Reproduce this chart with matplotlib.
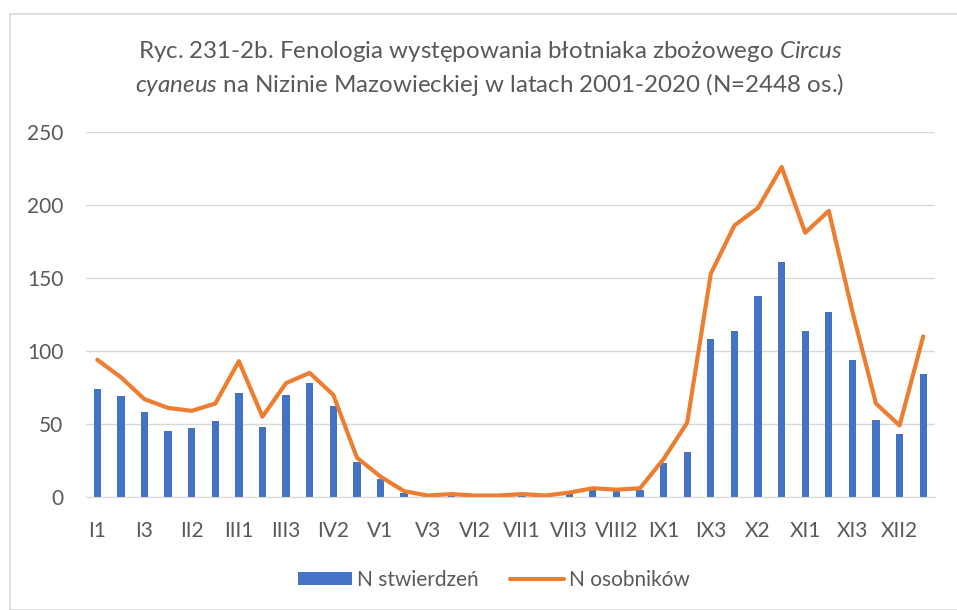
import matplotlib
matplotlib.use('Agg')
import matplotlib.pyplot as plt
import numpy as np
from matplotlib.patches import Rectangle

plt.rcParams['font.family'] = ['Lato', 'DejaVu Sans']
plt.rcParams['mathtext.fontset'] = 'custom'
plt.rcParams['mathtext.rm'] = 'Lato'
plt.rcParams['mathtext.it'] = 'Lato:italic'

# decades of each month (I1..XII3)
months = ['I', 'II', 'III', 'IV', 'V', 'VI', 'VII', 'VIII', 'IX', 'X', 'XI', 'XII']
decades = [m + str(d) for m in months for d in (1, 2, 3)]

# N stwierdzeń (records)
n_records = [74, 69, 58, 45, 47, 52, 71, 48, 70, 78, 62, 24,
             12, 3, 1, 1, 0, 1, 1, 1, 2, 5, 4, 5,
             23, 31, 108, 114, 138, 161, 114, 127, 94, 53, 43, 84]
# N osobników (individuals)
n_birds = [94, 82, 67, 61, 59, 64, 93, 55, 78, 85, 70, 27,
           14, 4, 1, 2, 1, 1, 2, 1, 3, 6, 5, 6,
           26, 51, 153, 186, 198, 226, 181, 196, 127, 64, 49, 110]

BLUE = '#4472C4'
ORANGE = '#ED7D31'
GRID = '#D9D9D9'
TXT = '#595959'

fig = plt.figure(figsize=(9.57, 6.10), dpi=100)
W, H = 957, 610
ax = fig.add_axes([85.5 / W, 1 - 497 / H, (935 - 85.5) / W, (497 - 132) / H])

x = np.arange(len(decades))
ax.bar(x, n_records, width=0.31, color=BLUE, label='N stwierdzeń', zorder=2)
ax.plot(x, n_birds, color=ORANGE, lw=3, label='N osobników', zorder=3,
        solid_joinstyle='round', solid_capstyle='round')

ax.set_xlim(-0.5, len(decades) - 0.5)
ax.set_ylim(0, 250)
ax.set_yticks(range(0, 251, 50))
ax.set_xticks(x[::2])
ax.set_xticklabels(decades[::2])
ax.yaxis.grid(True, color=GRID, lw=1, zorder=0)
ax.set_axisbelow(True)
for s in ax.spines.values():
    s.set_visible(False)
ax.spines['bottom'].set_visible(True)
ax.spines['bottom'].set_color(GRID)
ax.tick_params(axis='both', length=0, colors=TXT, labelsize=15)
ax.tick_params(axis='x', pad=17)
ax.tick_params(axis='y', pad=16)

fig.text(490 / W, 1 - 52 / H,
         r'Ryc. 231-2b. Fenologia występowania błotniaka zbożowego $\mathit{Circus}$',
         ha='center', va='center', fontsize=17.4, color=TXT)
fig.text(490 / W, 1 - 85 / H,
         r'$\mathit{cyaneus}$ na Nizinie Mazowieckiej w latach 2001-2020 (N=2448 os.)',
         ha='center', va='center', fontsize=17.4, color=TXT)

handles, labels = ax.get_legend_handles_labels()
order = [labels.index('N stwierdzeń'), labels.index('N osobników')]
leg = fig.legend([handles[i] for i in order], [labels[i] for i in order],
                 loc='center', bbox_to_anchor=(494 / W, 1 - 580 / H), ncol=2,
                 frameon=False, fontsize=15, handlelength=2.6, handleheight=0.63,
                 columnspacing=1.5, handletextpad=0.25)
for t in leg.get_texts():
    t.set_color(TXT)

fig.patches.append(Rectangle((10 / W, 0), 1.2, 1 - 14 / H, transform=fig.transFigure,
                             fill=False, edgecolor=GRID, lw=1.2))

fig.savefig('out.png', dpi=100, facecolor='white')
